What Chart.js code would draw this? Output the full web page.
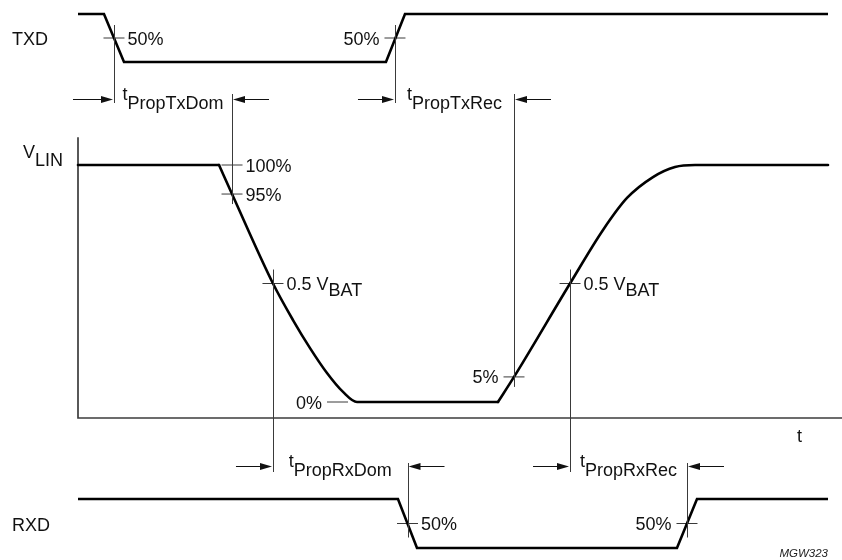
<!DOCTYPE html>
<html>
<head>
<meta charset="utf-8">
<title>LIN bus timing</title>
<script src="https://cdn.jsdelivr.net/npm/chart.js@4.4.1/dist/chart.umd.min.js"></script>
<style>
  html, body { margin: 0; padding: 0; background: #ffffff; }
  #wrap { position: relative; width: 842px; height: 560px; }
</style>
</head>
<body>
<div id="wrap"><canvas id="timing" width="842" height="560"></canvas></div>
<script>
// ---------------------------------------------------------------------------
// Waveforms. Time in arbitrary units (0 = start of the V_LIN axis).
// ---------------------------------------------------------------------------
const txdTime  = [0, 3.40, 6.02, 40.31, 42.80, 98.17];
const txdLevel = [1, 1, 0, 0, 1, 1];                 // logic level

// V_LIN in volts (V_BAT = 12 V): recessive hold, falling edge, rising edge
const linHoldTime = [0, 18.46];
const linHoldVolt = [12, 12];
const linFallTime = [18.46, 20.16, 25.52, 28.14, 30.37, 32.59, 34.69, 36.52, 54.97];
const linFallVolt = [12, 10.53, 6.0, 4.15, 2.73, 1.47, 0.51, 0, 0];
const linRiseTime = [54.97, 57.07, 64.40, 68.72, 71.86, 75.26, 78.14, 80.76, 98.17];
const linRiseVolt = [0, 1.27, 6.0, 8.71, 10.33, 11.39, 11.90, 12, 12];

const rxdTime  = [0, 41.88, 44.37, 78.40, 81.02, 98.17];
const rxdLevel = [1, 1, 0, 0, 1, 1];

// Threshold marks on each trace
const txdMarkTime = [4.71, 41.49];
const txdMarkLevel = [0.5, 0.5];
const txdMarkText = ['50%', '50%'];
const txdMarkSide = ['right', 'left'];

const linMarkTime = [20.16, 20.16, 25.52, 33.97, 57.07, 64.40];
const linMarkVolt = [12, 10.53, 6.0, 0, 1.27, 6.0];
const linMarkText = [['100%'], ['95%'], ['0.5 V', 'BAT'], ['0%'], ['5%'], ['0.5 V', 'BAT']];
const linMarkSide = ['right', 'right', 'right', 'left', 'left', 'right'];

const rxdMarkTime = [43.13, 79.71];
const rxdMarkLevel = [0.5, 0.5];
const rxdMarkText = ['50%', '50%'];
const rxdMarkSide = ['right', 'left'];

// Propagation delays: [time, trace, level] of start and end reference points
const delayName = ['PropTxDom', 'PropTxRec', 'PropRxDom', 'PropRxRec'];
const delayFrom = [[4.71, 'txd', 0.5], [41.49, 'txd', 0.5], [25.52, 'lin', 6.0], [64.40, 'lin', 6.0]];
const delayTo   = [[20.16, 'lin', 10.53], [57.07, 'lin', 1.27], [43.13, 'rxd', 0.5], [79.71, 'rxd', 0.5]];

// V_LIN axis frame (time extent, voltage extent)
const linAxisTime = [0, 0, 100];
const linAxisVolt = [13.4, -0.81, -0.81];

// ---------------------------------------------------------------------------
// Layout
// ---------------------------------------------------------------------------
const W = 842, H = 560;
const FONT = '"Liberation Sans", Arial, Helvetica, sans-serif';
const INK = '#000000';
const THIN = '#3a3a3a';
const TX_ROW = 99, RX_ROW = 466;     // rows of the delay arrows
const TICK = 10.5;                   // half length of a threshold tick

// Each trace gets its own y scale spanning the full canvas height; the
// range is chosen so the high/low levels land in that trace's band.
function band(vHi, pxHi, vLo, pxLo) {
  const k = (pxLo - pxHi) / (vHi - vLo);
  return { min: vLo - (H - pxLo) / k, max: vHi + pxHi / k };
}
const txdBand = band(1, 14, 0, 62);
const linBand = band(12, 165, 0, 402);
const rxdBand = band(1, 499, 0, 548);

const zip = (xs, ys) => xs.map((x, i) => ({ x, y: ys[i] }));
const AX = { txd: 'yTxd', lin: 'yLin', rxd: 'yRxd' };

function trace(data, axis, extra) {
  return Object.assign({
    data, yAxisID: axis, xAxisID: 'x',
    showLine: true, borderColor: INK, borderWidth: 2.6,
    pointRadius: 0, tension: 0, fill: false,
    borderJoinStyle: 'miter', borderCapStyle: 'round'
  }, extra || {});
}
function marks(data, axis) {
  return {
    data, yAxisID: axis, xAxisID: 'x', showLine: false,
    pointStyle: 'line', pointRadius: TICK, pointHoverRadius: TICK,
    pointBorderWidth: 1, pointBorderColor: THIN, borderColor: THIN
  };
}

// ---------------------------------------------------------------------------
// Guides, delay arrows and text
// ---------------------------------------------------------------------------
function textWidth(ctx, s) { return ctx.measureText(s).width; }

function drawSubText(ctx, x, base, main, sub, subDrop, align) {
  const wm = textWidth(ctx, main);
  const ws = sub ? textWidth(ctx, sub) : 0;
  let x0 = x;
  if (align === 'right') x0 = x - wm - ws;
  if (align === 'center') x0 = x - (wm + ws) / 2;
  ctx.textAlign = 'left';
  ctx.fillText(main, x0, base);
  if (sub) ctx.fillText(sub, x0 + wm, base + subDrop);
}

function vline(ctx, x, y1, y2) {
  const xx = Math.round(x) + 0.5;
  ctx.beginPath(); ctx.moveTo(xx, y1); ctx.lineTo(xx, y2); ctx.stroke();
}

function arrow(ctx, xFrom, xTip, y) {
  const dir = Math.sign(xTip - xFrom);
  const yy = Math.round(y) + 0.5;
  ctx.beginPath(); ctx.moveTo(xFrom, yy); ctx.lineTo(xTip - dir * 6, yy); ctx.stroke();
  ctx.beginPath();
  ctx.moveTo(xTip, yy);
  ctx.lineTo(xTip - dir * 12, yy - 3.6);
  ctx.lineTo(xTip - dir * 12, yy + 3.6);
  ctx.closePath(); ctx.fill();
}

const annotate = {
  id: 'annotate',
  afterDatasetsDraw(chart) {
    const { ctx, scales } = chart;
    const X = t => scales.x.getPixelForValue(t);
    const Y = (tr, v) => scales[AX[tr]].getPixelForValue(v);
    ctx.save();
    ctx.strokeStyle = THIN; ctx.fillStyle = '#111'; ctx.lineWidth = 1;

    // delay guides and arrows
    delayName.forEach((name, i) => {
      const [t0, tr0, v0] = delayFrom[i];
      const [t1, tr1, v1] = delayTo[i];
      const x0 = X(t0), x1 = X(t1);
      const row = i < 2 ? TX_ROW : RX_ROW;
      if (i < 2) {
        vline(ctx, x0, Y(tr0, v0) - 13, row + 4);
        vline(ctx, x1, row - 5, Y(tr1, v1) + 10);
      } else {
        vline(ctx, x0, Y(tr0, v0) - 14, row + 6);
        vline(ctx, x1, row - 3, Y(tr1, v1) + 14);
      }
      ctx.strokeStyle = '#111';
      arrow(ctx, x0 - (i === 0 ? 41 : 37), x0 - 1, row);
      arrow(ctx, x1 + 37, x1 + 1, row);
      ctx.strokeStyle = THIN;
      ctx.font = '18px ' + FONT;
      ctx.fillStyle = '#111';
      drawSubText(ctx, (x0 + x1) / 2, row + 1, 't', name, 9, 'center');
    });

    // threshold labels
    ctx.font = '18px ' + FONT;
    const label = (t, y, parts, side) => {
      const x = side === 'right' ? t + TICK + 3 : t - TICK - 5;
      drawSubText(ctx, x, y + 6.5, parts[0], parts[1], 6, side === 'right' ? 'left' : 'right');
    };
    txdMarkTime.forEach((t, i) => label(X(t), Y('txd', txdMarkLevel[i]), [txdMarkText[i]], txdMarkSide[i]));
    linMarkTime.forEach((t, i) => label(X(t), Y('lin', linMarkVolt[i]), linMarkText[i], linMarkSide[i]));
    rxdMarkTime.forEach((t, i) => label(X(t), Y('rxd', rxdMarkLevel[i]), [rxdMarkText[i]], rxdMarkSide[i]));

    // signal names and axis title
    drawSubText(ctx, 12, Y('txd', 0.5) + 7, 'TXD', null, 0, 'left');
    drawSubText(ctx, 12, Y('rxd', 0.5) + 7, 'RXD', null, 0, 'left');
    drawSubText(ctx, 23, Y('lin', 12) - 7, 'V', 'LIN', 8, 'left');
    drawSubText(ctx, X(100) - 45, Y('lin', -0.81) + 24, 't', null, 0, 'left');

    ctx.font = 'italic 11.5px ' + FONT;
    ctx.fillStyle = '#222';
    ctx.textAlign = 'right';
    ctx.fillText('MGW323', X(98.17), H - 3);
    ctx.restore();
  }
};

// ---------------------------------------------------------------------------
// Chart
// ---------------------------------------------------------------------------
Chart.defaults.font.family = FONT;

new Chart(document.getElementById('timing'), {
  type: 'scatter',
  data: {
    datasets: [
      trace(zip(txdTime, txdLevel), 'yTxd', { borderCapStyle: 'butt' }),
      trace(zip(linHoldTime, linHoldVolt), 'yLin'),
      trace(zip(linFallTime, linFallVolt), 'yLin', { cubicInterpolationMode: 'monotone' }),
      trace(zip(linRiseTime, linRiseVolt), 'yLin', { cubicInterpolationMode: 'monotone' }),
      trace(zip(rxdTime, rxdLevel), 'yRxd', { borderCapStyle: 'butt' }),
      marks(zip(txdMarkTime, txdMarkLevel), 'yTxd'),
      marks(zip(linMarkTime, linMarkVolt), 'yLin'),
      marks(zip(rxdMarkTime, rxdMarkLevel), 'yRxd'),
      trace(zip(linAxisTime, linAxisVolt), 'yLin', {
        borderColor: '#3c3c3c', borderWidth: 1.7, borderCapStyle: 'butt'
      })
    ]
  },
  options: {
    responsive: false,
    devicePixelRatio: 1,
    animation: false,
    events: [],
    layout: { padding: 0, autoPadding: false },
    plugins: { legend: { display: false }, tooltip: { enabled: false } },
    scales: {
      x: { type: 'linear', display: false, min: -78 / 7.64, max: 100 },
      yTxd: { type: 'linear', display: false, min: txdBand.min, max: txdBand.max },
      yLin: { type: 'linear', display: false, min: linBand.min, max: linBand.max },
      yRxd: { type: 'linear', display: false, min: rxdBand.min, max: rxdBand.max }
    }
  },
  plugins: [annotate]
});
</script>
</body>
</html>
